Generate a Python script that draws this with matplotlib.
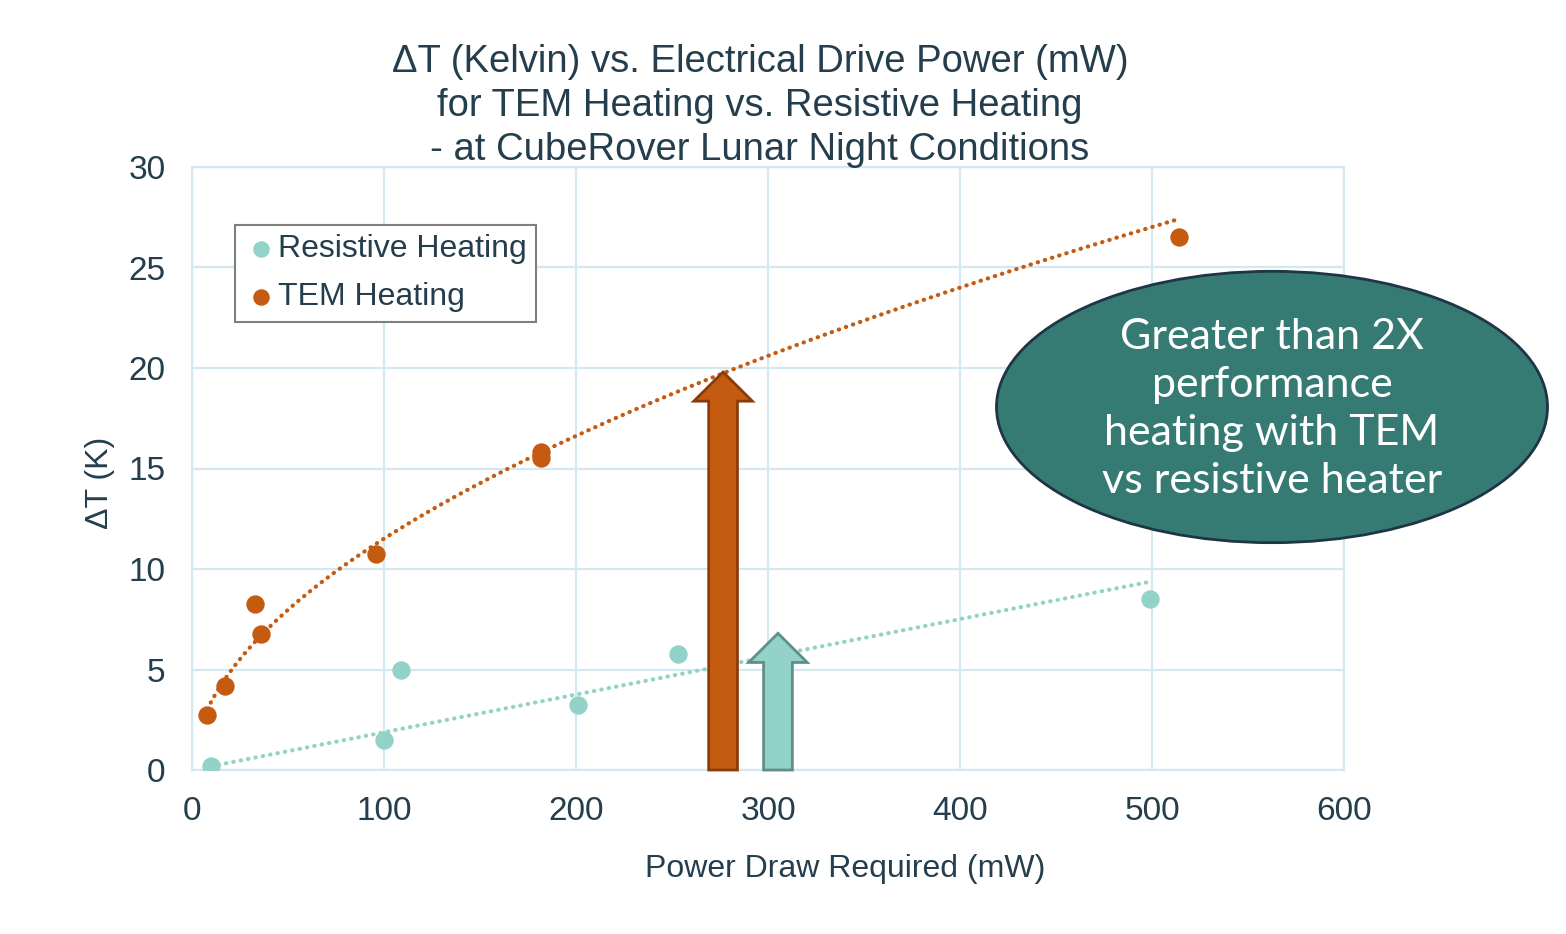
import numpy as np
import matplotlib.pyplot as plt
from matplotlib.patches import Ellipse, FancyArrow

# Measured temperature rise vs. drive power
tem_power = [8, 17, 33, 36, 96, 182, 182, 514]
tem_dt = [2.75, 4.2, 8.25, 6.75, 10.75, 15.5, 15.8, 26.5]
res_power = [10, 100, 109, 201, 253, 499]
res_dt = [0.2, 1.5, 5.0, 3.25, 5.75, 8.5]

x_ticks = [0, 100, 200, 300, 400, 500, 600]
y_ticks = [0, 5, 10, 15, 20, 25, 30]

# callout arrows: (x position, tip height)
tem_arrow = (276.6, 19.8)
res_arrow = (305.2, 6.8)

callout = "Greater than 2X\nperformance\nheating with TEM\nvs resistive heater"

ORANGE = "#C55A11"
TEAL = "#93D2C8"
GRID = "#D3E8EF"
INK = "#243E4D"

plt.rcParams["font.family"] = ["Liberation Sans", "DejaVu Sans"]

fig = plt.figure(figsize=(15.66, 9.34), dpi=100)
ax = fig.add_axes([192 / 1566, 1 - 770 / 934, 1152 / 1566, 603 / 934])

ax.set_xlim(0, 600)
ax.set_ylim(0, 30)
ax.set_xticks(x_ticks)
ax.set_yticks(y_ticks)
ax.grid(True, color=GRID, linewidth=1.6, zorder=0)
ax.set_axisbelow(True)
for sp in ax.spines.values():
    sp.set_color(GRID)
    sp.set_linewidth(1.6)
ax.tick_params(length=0, labelsize=24, labelcolor=INK)
ax.tick_params(axis="x", pad=19)
ax.tick_params(axis="y", pad=19)

# trendlines: power law for TEM, straight line through origin for resistive
tx = np.asarray(tem_power, float)
ty = np.asarray(tem_dt, float)
b, lna = np.polyfit(np.log(tx), np.log(ty), 1)
xs = np.linspace(tx.min(), tx.max(), 300)
dot = (0, (0.1, 1.7))
ax.plot(xs, np.exp(lna) * xs ** b, color=ORANGE, lw=3, ls=dot,
        dash_capstyle="round", zorder=2)

rx = np.asarray(res_power, float)
ry = np.asarray(res_dt, float)
slope = (rx * ry).sum() / (rx * rx).sum()
xr = np.linspace(rx.min(), rx.max(), 2)
ax.plot(xr, slope * xr, color=TEAL, lw=3, ls=dot,
        dash_capstyle="round", zorder=2)

# arrows
for (ax_x, tip), face, edge in [(tem_arrow, ORANGE, "#8A3B0C"),
                                (res_arrow, TEAL, "#5E9089")]:
    ax.add_patch(FancyArrow(ax_x, 0, 0, tip, width=15, head_width=30.5,
                            head_length=1.45, length_includes_head=True,
                            facecolor=face, edgecolor=edge, linewidth=2,
                            clip_on=False, zorder=3))

ax.scatter(res_power, res_dt, s=175, color=TEAL, zorder=4,
           label="Resistive Heating", linewidths=0)
ax.scatter(tem_power, tem_dt, s=175, color=ORANGE, zorder=4,
           label="TEM Heating", linewidths=0)

leg = ax.legend(loc="upper left", bbox_to_anchor=(0.0373, 0.904),
                borderaxespad=0, fontsize=23, frameon=True, fancybox=False,
                edgecolor="#7F7F7F", framealpha=1, handletextpad=0.05,
                handlelength=1.0, markerscale=0.9, borderpad=0.3,
                labelspacing=0.55)
leg.get_frame().set_linewidth(1.5)
for t in leg.get_texts():
    t.set_color(INK)

# callout ellipse
ax.add_patch(Ellipse((562.5, 18.06), 287, 13.5, facecolor="#367B73",
                     edgecolor="#1E3545", linewidth=2, clip_on=False,
                     zorder=5))
ax.text(562.5, 17.96, callout, ha="center", va="center", fontsize=31,
        color="white", family=["Lato", "DejaVu Sans"], fontweight="normal",
        linespacing=1.32, zorder=6, clip_on=False)

ax.set_xlabel("Power Draw Required (mW)", fontsize=23, color=INK)
ax.xaxis.set_label_coords(0.567, -0.164)
ax.xaxis.label.set_va("center")
ax.set_ylabel("ΔT (K)", fontsize=23, color=INK)
ax.yaxis.set_label_coords(-0.08, 0.476)
ax.yaxis.label.set_va("center")

fig.text(760 / 1566, 1 - 106 / 934,
         "ΔT (Kelvin) vs. Electrical Drive Power (mW)\n"
         "for TEM Heating vs. Resistive Heating\n"
         "- at CubeRover Lunar Night Conditions",
         ha="center", va="center", fontsize=27.5, color=INK, linespacing=1.27)

fig.savefig("out.png", dpi=100)
